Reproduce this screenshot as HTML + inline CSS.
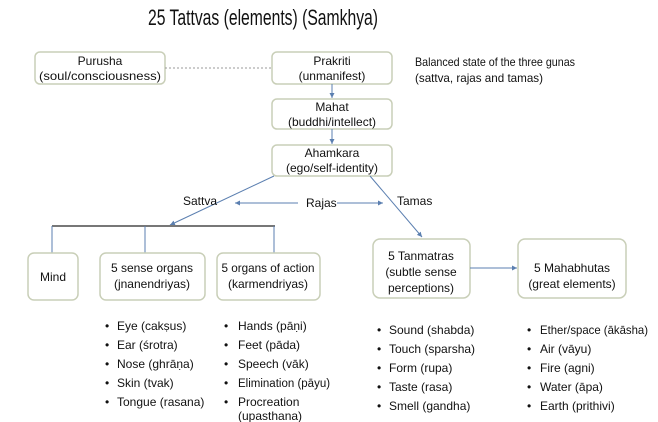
<!DOCTYPE html>
<html><head><meta charset="utf-8"><style>
html,body{margin:0;padding:0;background:#fff;}
svg{display:block;}
text{font-family:"Liberation Sans",sans-serif;fill:#111;}
.b{fill:#fff;stroke:#c9cfb8;stroke-width:1.5;}
.l{stroke:#5b7fb0;stroke-width:1;fill:none;}
.t{font-size:12px;}
</style></head><body>
<svg width="658" height="422" viewBox="0 0 658 422">
<defs><marker id="a" markerWidth="6" markerHeight="6" refX="5" refY="3" orient="auto"><path d="M0,0.5 L5,3 L0,5.5z" fill="#5b7fb0"/></marker></defs>
<text x="263" y="25" font-size="22" text-anchor="middle" textLength="230" lengthAdjust="spacingAndGlyphs">25 Tattvas (elements) (Samkhya)</text>

<rect class="b" x="35" y="52" width="130" height="32" rx="5"/>
<rect class="b" x="272" y="52" width="120" height="32" rx="5"/>
<rect class="b" x="272" y="99" width="120" height="30" rx="5"/>
<rect class="b" x="272" y="145" width="120" height="31" rx="5"/>
<line x1="165" y1="68" x2="272" y2="68" stroke="#999" stroke-dasharray="2,2"/>
<text class="t" x="100" y="65" text-anchor="middle">Purusha</text>
<text class="t" x="100" y="80" text-anchor="middle" textLength="122" lengthAdjust="spacingAndGlyphs">(soul/consciousness)</text>
<text class="t" x="332" y="65" text-anchor="middle">Prakriti</text>
<text class="t" x="332" y="80" text-anchor="middle">(unmanifest)</text>
<text class="t" x="415" y="66" textLength="160" lengthAdjust="spacingAndGlyphs">Balanced state of the three gunas</text>
<text class="t" x="415" y="82" textLength="128" lengthAdjust="spacingAndGlyphs">(sattva, rajas and tamas)</text>
<text class="t" x="332" y="111" text-anchor="middle">Mahat</text>
<text class="t" x="332" y="126" text-anchor="middle">(buddhi/intellect)</text>
<text class="t" x="332" y="157" text-anchor="middle">Ahamkara</text>
<text class="t" x="332" y="172" text-anchor="middle" textLength="92" lengthAdjust="spacingAndGlyphs">(ego/self-identity)</text>
<line class="l" x1="332" y1="84" x2="332" y2="98" marker-end="url(#a)"/>
<line class="l" x1="332" y1="129" x2="332" y2="144" marker-end="url(#a)"/>

<line class="l" x1="274" y1="176" x2="170" y2="225" marker-end="url(#a)"/>
<line class="l" x1="370" y1="176" x2="422" y2="237" marker-end="url(#a)"/>
<text class="t" x="183" y="205">Sattva</text>
<text class="t" x="397" y="205">Tamas</text>
<text class="t" x="306" y="207">Rajas</text>
<line class="l" x1="298" y1="203" x2="235" y2="203" marker-end="url(#a)"/>
<line class="l" x1="337" y1="203" x2="383" y2="203" marker-end="url(#a)"/>

<line x1="52" y1="226" x2="275" y2="226" stroke="#777" stroke-width="2"/>
<line class="l" x1="52" y1="226" x2="52" y2="253"/>
<line class="l" x1="145" y1="226" x2="145" y2="253"/>
<line class="l" x1="274" y1="226" x2="274" y2="253"/>

<rect class="b" x="28" y="253" width="50" height="47" rx="6"/>
<rect class="b" x="100" y="253" width="105" height="47" rx="6"/>
<rect class="b" x="217" y="253" width="103" height="47" rx="6"/>
<rect class="b" x="373" y="239" width="97" height="59" rx="7"/>
<rect class="b" x="518" y="239" width="108" height="59" rx="7"/>
<line class="l" x1="470" y1="268" x2="517" y2="268" marker-end="url(#a)"/>
<text class="t" x="53" y="281" text-anchor="middle">Mind</text>
<text class="t" x="152" y="272" text-anchor="middle">5 sense organs</text>
<text class="t" x="152" y="288" text-anchor="middle">(jnanendriyas)</text>
<text class="t" x="268" y="272" text-anchor="middle" textLength="93" lengthAdjust="spacingAndGlyphs">5 organs of action</text>
<text class="t" x="268" y="288" text-anchor="middle">(karmendriyas)</text>
<text class="t" x="421" y="260" text-anchor="middle">5 Tanmatras</text>
<text class="t" x="421" y="276" text-anchor="middle">(subtle sense</text>
<text class="t" x="421" y="292" text-anchor="middle">perceptions)</text>
<text class="t" x="572" y="272" text-anchor="middle">5 Mahabhutas</text>
<text class="t" x="572" y="288" text-anchor="middle">(great elements)</text>

<g>
<text class="t" x="105" y="330">•</text><text class="t" x="117" y="330">Eye (cakṣus)</text>
<text class="t" x="105" y="349">•</text><text class="t" x="117" y="349">Ear (śrotra)</text>
<text class="t" x="105" y="368">•</text><text class="t" x="117" y="368">Nose (ghrāṇa)</text>
<text class="t" x="105" y="387">•</text><text class="t" x="117" y="387">Skin (tvak)</text>
<text class="t" x="105" y="406">•</text><text class="t" x="117" y="406">Tongue (rasana)</text>

<text class="t" x="224" y="330">•</text><text class="t" x="238" y="330">Hands (pāṇi)</text>
<text class="t" x="224" y="349">•</text><text class="t" x="238" y="349">Feet (pāda)</text>
<text class="t" x="224" y="368">•</text><text class="t" x="238" y="368">Speech (vāk)</text>
<text class="t" x="224" y="387">•</text><text x="238" y="387" font-size="11.5">Elimination (pāyu)</text>
<text class="t" x="224" y="406">•</text><text class="t" x="238" y="406">Procreation</text>
<text class="t" x="238" y="420">(upasthana)</text>

<text class="t" x="377" y="334">•</text><text class="t" x="389" y="334">Sound (shabda)</text>
<text class="t" x="377" y="353">•</text><text class="t" x="389" y="353">Touch (sparsha)</text>
<text class="t" x="377" y="372">•</text><text class="t" x="389" y="372">Form (rupa)</text>
<text class="t" x="377" y="391">•</text><text class="t" x="389" y="391">Taste (rasa)</text>
<text class="t" x="377" y="410">•</text><text class="t" x="389" y="410">Smell (gandha)</text>

<text class="t" x="527" y="334">•</text><text class="t" x="540" y="334" textLength="108" lengthAdjust="spacingAndGlyphs">Ether/space (ākāsha)</text>
<text class="t" x="527" y="353">•</text><text class="t" x="540" y="353">Air (vāyu)</text>
<text class="t" x="527" y="372">•</text><text class="t" x="540" y="372">Fire (agni)</text>
<text class="t" x="527" y="391">•</text><text class="t" x="540" y="391">Water (āpa)</text>
<text class="t" x="527" y="410">•</text><text class="t" x="540" y="410">Earth (prithivi)</text>
</g>
</svg>
</body></html>
